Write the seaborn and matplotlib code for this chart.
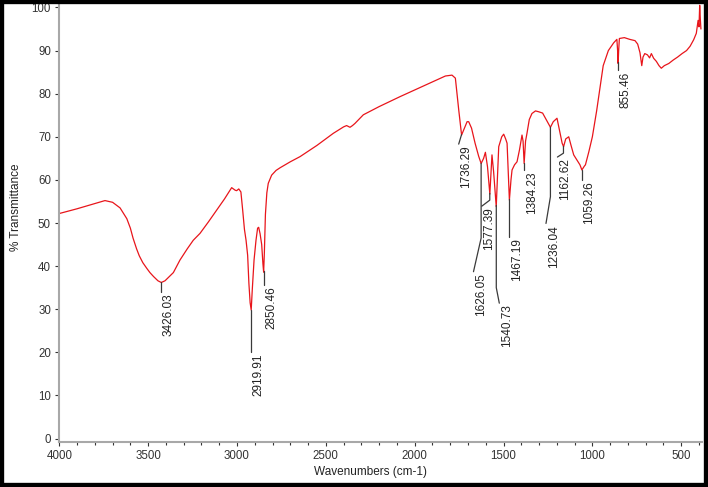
import matplotlib
matplotlib.use('Agg')
import matplotlib.pyplot as plt
import seaborn as sns
import numpy as np
from matplotlib.patches import Rectangle

# FTIR spectrum (cm-1, %T)
wavenumbers = [4000, 3900, 3800, 3743, 3700, 3658, 3620, 3600, 3585, 3565, 3550, 3530, 3508,
               3490, 3470, 3445, 3426, 3405, 3380, 3358, 3321, 3280, 3246, 3208, 3160, 3114,
               3070, 3030, 3010, 3002, 2990, 2978, 2968, 2958, 2949, 2940, 2933, 2926, 2920,
               2914, 2904, 2893, 2884, 2878, 2870, 2861, 2854, 2850, 2846, 2840, 2832, 2824,
               2805, 2780, 2758, 2700, 2645, 2550, 2458, 2400, 2383, 2364, 2350, 2336, 2289,
               2200, 2083, 1950, 1827, 1790, 1771, 1752, 1736, 1720, 1705, 1696, 1680, 1660,
               1640, 1626, 1612, 1602, 1590, 1577, 1570, 1565, 1556, 1541, 1533, 1527, 1510,
               1499, 1488, 1480, 1467, 1458, 1452, 1438, 1424, 1410, 1396, 1390, 1384, 1376,
               1368, 1355, 1340, 1320, 1302, 1280, 1264, 1236, 1220, 1199, 1185, 1170, 1162,
               1150, 1133, 1120, 1105, 1085, 1070, 1059, 1045, 1039, 1020, 1000, 976, 955, 939,
               910, 880, 862, 858, 855, 852, 848, 820, 790, 760, 745, 732, 722, 715, 705, 690,
               678, 668, 655, 640, 625, 612, 595, 570, 545, 520, 495, 470, 450, 430, 415, 405,
               400, 396, 392, 389]
transmittance = [52.2, 53.3, 54.5, 55.2, 54.8, 53.5, 51.0, 48.8, 46.5, 44.0, 42.4, 40.8, 39.5,
                 38.5, 37.6, 36.6, 36.2, 36.6, 37.6, 38.5, 41.4, 44.0, 46.0, 47.6, 50.3, 53.0,
                 55.6, 58.2, 57.6, 57.5, 57.9, 57.2, 53.0, 48.5, 46.0, 42.5, 36.0, 31.5, 29.8,
                 34.5, 41.4, 46.0, 48.8, 49.0, 47.5, 45.0, 40.5, 38.6, 43.0, 52.0, 57.0, 59.2,
                 61.1, 62.2, 62.8, 64.2, 65.4, 68.0, 70.8, 72.3, 72.6, 72.2, 72.6, 73.1, 75.1,
                 77.0, 79.3, 81.8, 84.1, 84.3, 83.6, 76.2, 70.4, 72.0, 73.5, 73.5, 72.0, 68.5,
                 65.5, 63.8, 65.0, 66.4, 63.0, 56.7, 62.0, 65.8, 62.0, 53.8, 62.0, 67.7, 70.0,
                 70.6, 69.5, 68.5, 55.3, 60.0, 62.3, 63.5, 64.2, 67.0, 70.4, 69.0, 63.8, 69.0,
                 70.8, 74.0, 75.4, 76.0, 75.8, 75.5, 74.3, 72.2, 73.5, 74.3, 71.5, 68.5, 67.7,
                 69.5, 70.0, 68.0, 65.8, 64.5, 63.5, 62.3, 63.2, 63.5, 66.5, 70.0, 76.0, 82.0, 86.5,
                 90.0, 91.8, 92.6, 90.0, 87.0, 90.0, 92.8, 93.0, 92.6, 92.3, 91.5, 89.5, 86.5,
                 88.5, 89.3, 89.0, 88.3, 89.3, 88.2, 87.5, 86.5, 85.9, 86.5, 87.0, 87.8, 88.5,
                 89.3, 90.0, 91.0, 92.5, 94.0, 97.0, 95.5, 100.5, 97.0, 95.0]

peak_wn = [3426.03, 2919.91, 2850.46, 1736.29, 1626.05, 1577.39, 1540.73,
           1467.19, 1384.23, 1236.04, 1162.62, 1059.26, 855.46]
peak_labels = [f'{p:.2f}' for p in peak_wn]

# leader line layout: end height, optional bend height, sideways shift of the end
lead_end = [34.0, 20.1, 35.6, 68.3, 38.7, 53.9, 31.4, 46.8, 62.3, 49.9, 65.3, 60.0, 85.5]
lead_bend = [None, None, None, None, 46.5, 55.3, 35.0, None, None, 56.1, 66.2, None, None]
lead_dx = [0, 0, 0, 16, 43, 45, -17, 0, 0, 25, 34, 0, 0]

sns.set_style('ticks')
plt.rcParams['font.family'] = ['Liberation Sans', 'DejaVu Sans']

fig = plt.figure(figsize=(7.08, 4.87), dpi=100)
ax = fig.add_axes([59.3 / 708, 45 / 487, (702 - 59.3) / 708, 438 / 487])

sns.lineplot(x=wavenumbers, y=transmittance, sort=False, color='#e8151b',
             linewidth=0.9, ax=ax)

wn_up = np.array(wavenumbers[::-1], dtype=float)
tr_up = np.array(transmittance[::-1], dtype=float)
for p, lab, end, bend, dx in zip(peak_wn, peak_labels, lead_end, lead_bend, lead_dx):
    tp = np.interp(p, wn_up, tr_up)
    xs, ys = [p], [tp]
    if bend is not None:
        xs.append(p); ys.append(bend)
    xs.append(p + dx); ys.append(end)
    ax.plot(xs, ys, color='#3a3a3a', lw=0.9)
    ax.annotate(lab, xy=(p + dx, end), xytext=(5.5, -1), textcoords='offset points',
                rotation=90, ha='center', va='top', fontsize=8.5, color='#222222')

ax.set_xlim(4000, 383)
ax.set_ylim(-0.8, 100.8)
ax.set_xticks(np.arange(4000, 499, -500))
ax.set_xticks(np.arange(4000, 399, -100), minor=True)
ax.set_yticks(np.arange(0, 101, 10))
ax.tick_params(axis='both', which='major', labelsize=8.3, colors='#333333',
               length=3, width=0.8, pad=3)
ax.tick_params(axis='x', which='minor', length=2, width=0.8, colors='#333333')
for s in ['top', 'right']:
    ax.spines[s].set_visible(False)
for s in ['left', 'bottom']:
    ax.spines[s].set_color('#a8a8a8')
    ax.spines[s].set_linewidth(1.5)
ax.set_xlabel('')
ax.set_ylabel('')

fig.text(370 / 708, 1 - 472 / 487, 'Wavenumbers (cm-1)', ha='center', va='center',
         fontsize=8.5, color='#222222')
fig.text(16 / 708, 1 - 207 / 487, '% Transmittance', ha='center', va='center',
         rotation=90, fontsize=8.5, color='#222222')

fig.patches.append(Rectangle((0, 0), 1, 1, transform=fig.transFigure, fill=False,
                             edgecolor='black', linewidth=6))

fig.savefig('out.png', dpi=100)
